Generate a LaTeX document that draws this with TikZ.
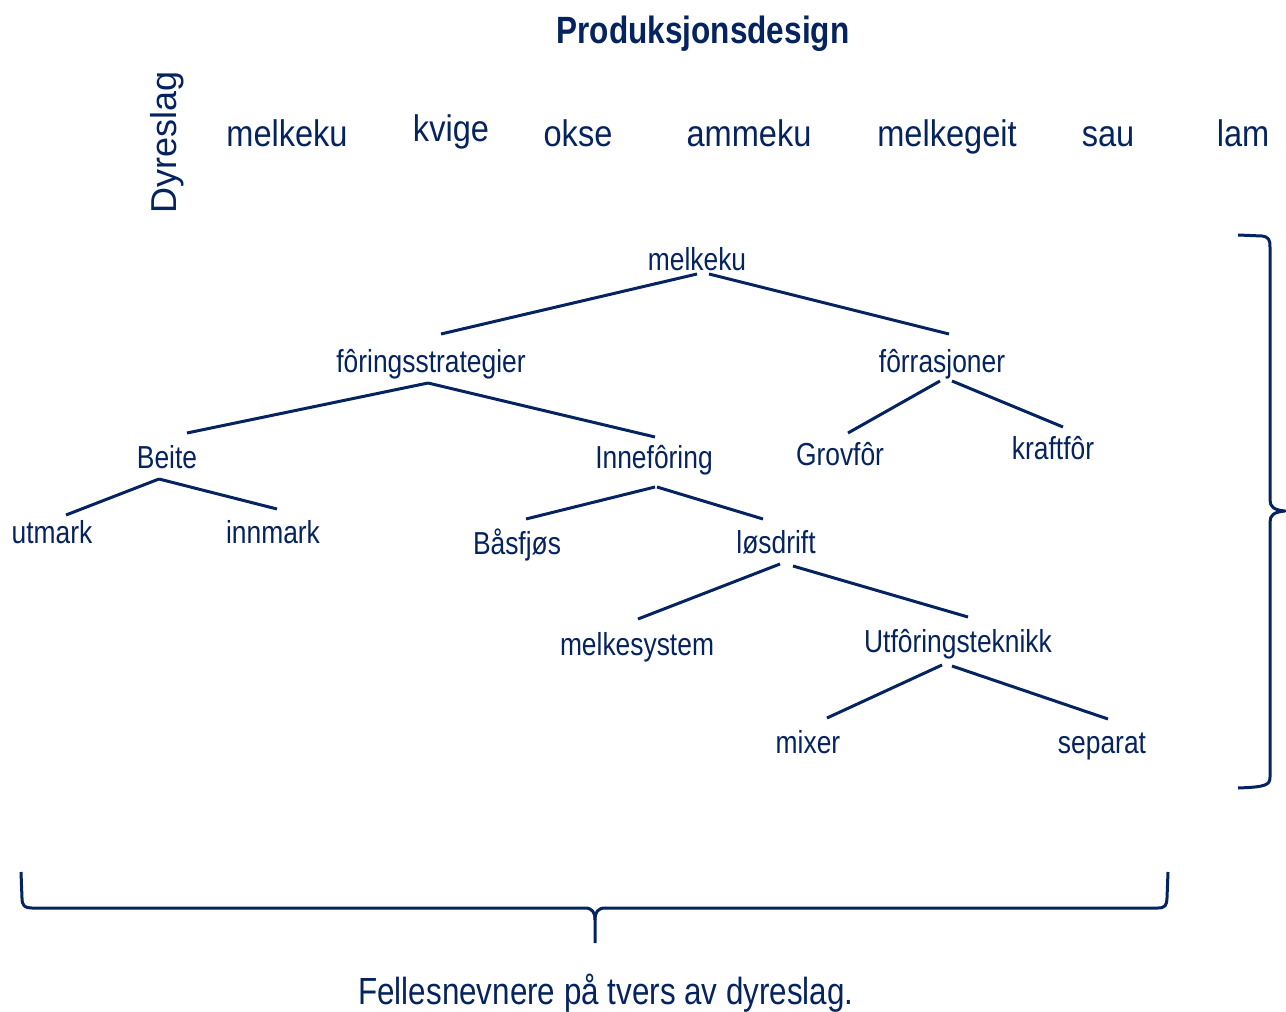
\documentclass[tikz,border=0pt]{standalone}
\usepackage{fontspec}
\setmainfont{Liberation Sans}
\newfontfamily\nar[FakeStretch=0.88]{Liberation Sans}
\newfontfamily\narr[FakeStretch=0.83]{Liberation Sans}
\definecolor{navy}{RGB}{5,35,95}
\begin{document}
\begin{tikzpicture}[x=1pt,y=-1pt,
  lbl/.style={anchor=base,inner sep=0pt,text=navy,font=\narr\fontsize{31.8}{38}\selectfont},
  top/.style={anchor=base,inner sep=0pt,text=navy,font=\nar\fontsize{37}{44}\selectfont},
  conn/.style={draw=navy,line width=3pt},
  brace/.style={draw=navy,line width=3pt,line join=round}]
\useasboundingbox (0,0) rectangle (1286,1012);
% title and animal row
\node[anchor=base,inner sep=0pt,text=navy,font=\narr\bfseries\fontsize{38}{44}\selectfont] (title) at (703,43) {Produksjonsdesign};
\node[anchor=base,inner sep=0pt,text=navy,rotate=90,font=\fontsize{36}{42}\selectfont] (dyr) at (176,142) {Dyreslag};
\node[top] (t1) at (287,146) {melkeku};
\node[top] (t2) at (451,141) {kvige};
\node[top] (t3) at (578,146) {okse};
\node[top] (t4) at (749,146) {ammeku};
\node[top] (t5) at (947,146) {melkegeit};
\node[top] (t6) at (1108,146) {sau};
\node[top] (t7) at (1243,146) {lam};
% tree nodes
\node[lbl] (mk) at (697,270) {melkeku};
\node[lbl] (fs) at (431,372) {fôringsstrategier};
\node[lbl] (fr) at (942,372) {fôrrasjoner};
\node[lbl] (be) at (167,468) {Beite};
\node[lbl] (in) at (654,468) {Innefôring};
\node[lbl] (gr) at (840,465) {Grovfôr};
\node[lbl] (kr) at (1053,459) {kraftfôr};
\node[lbl] (ut) at (52,543) {utmark};
\node[lbl] (im) at (273,543) {innmark};
\node[lbl] (bf) at (517,554) {Båsfjøs};
\node[lbl] (ld) at (776,553) {løsdrift};
\node[lbl] (ms) at (637,655) {melkesystem};
\node[lbl] (uf) at (958,652) {Utfôringsteknikk};
\node[lbl] (mx) at (808,753) {mixer};
\node[lbl] (sp) at (1102,753) {separat};
% connectors
\draw[conn] ([shift={(0,4)}]mk.base) -- ([shift={(10,-38)}]fs.base);
\draw[conn] ([shift={(12,4)}]mk.base) -- ([shift={(7,-38)}]fr.base);
\draw[conn] ([shift={(-3,11)}]fs.base) -- ([shift={(20,-35)}]be.base);
\draw[conn] ([shift={(-3,11)}]fs.base) -- ([shift={(1,-31)}]in.base);
\draw[conn] ([shift={(-2,9)}]fr.base) -- ([shift={(8,-32)}]gr.base);
\draw[conn] ([shift={(10,9)}]fr.base) -- ([shift={(10,-32)}]kr.base);
\draw[conn] ([shift={(-8,11)}]be.base) -- ([shift={(14,-28)}]ut.base);
\draw[conn] ([shift={(-8,11)}]be.base) -- ([shift={(4,-34)}]im.base);
\draw[conn] ([shift={(1,19)}]in.base) -- ([shift={(9,-35)}]bf.base);
\draw[conn] ([shift={(3,19)}]in.base) -- ([shift={(-13,-34)}]ld.base);
\draw[conn] ([shift={(4,11)}]ld.base) -- ([shift={(1,-36)}]ms.base);
\draw[conn] ([shift={(17,13)}]ld.base) -- ([shift={(10,-35)}]uf.base);
\draw[conn] ([shift={(-16,13)}]uf.base) -- ([shift={(19,-35)}]mx.base);
\draw[conn] ([shift={(-6,14)}]uf.base) -- ([shift={(6,-34)}]sp.base);
% right brace
\draw[brace] (1238,235) -- (1262,236) .. controls (1269,237) and (1270,240) .. (1270,247)
  -- (1270,500) .. controls (1270,507) and (1274,510) .. (1285,511)
  .. controls (1274,512) and (1270,515) .. (1270,522)
  -- (1270,777) .. controls (1270,785) and (1266,787) .. (1238,788);
% bottom brace
\draw[brace] (21,872) -- (22,898) .. controls (22,906) and (25,908) .. (32,908)
  -- (585,908) .. controls (592,908) and (595,912) .. (595,920) -- (595,943);
\draw[brace] (595,920) .. controls (595,912) and (598,908) .. (605,908)
  -- (1158,908) .. controls (1165,908) and (1167,905) .. (1167,898) -- (1168,872);
% bottom caption
\node[anchor=base,inner sep=0pt,text=navy,font=\narr\fontsize{37.8}{44}\selectfont] (cap) at (606,1004) {Fellesnevnere på tvers av dyreslag.};
\end{tikzpicture}
\end{document}
